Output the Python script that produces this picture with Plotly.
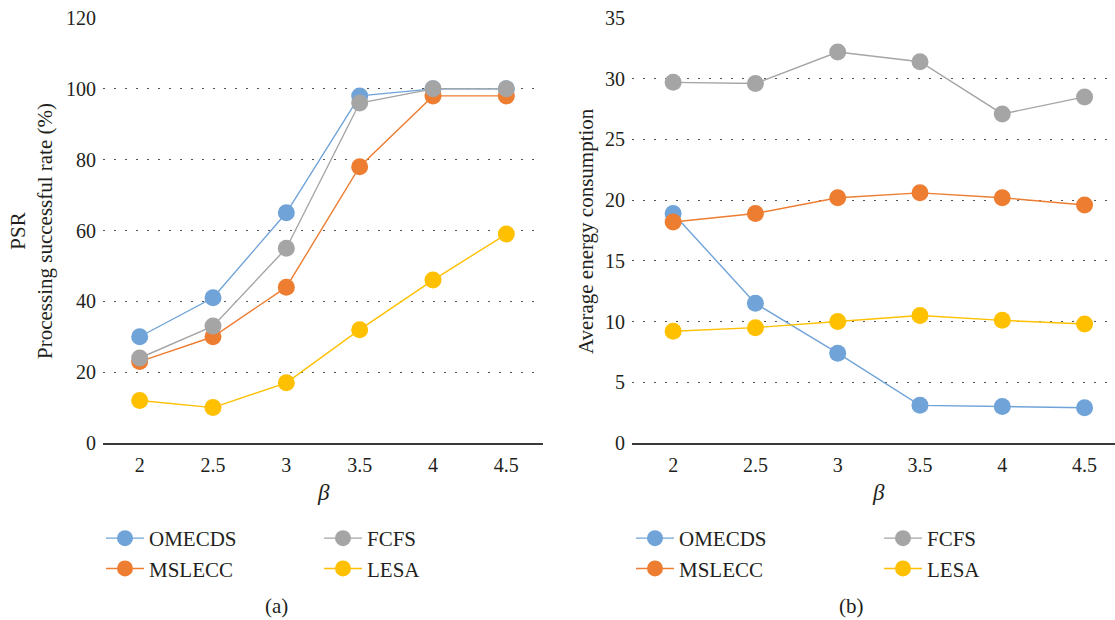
import plotly.graph_objects as go

# beta values (x categories)
beta = ["2", "2.5", "3", "3.5", "4", "4.5"]

# (a) processing successful rate, %
psr_omecds = [30, 41, 65, 98, 100, 100]
psr_mslecc = [23, 30, 44, 78, 98, 98]
psr_fcfs = [24, 33, 55, 96, 100, 100]
psr_lesa = [12, 10, 17, 32, 46, 59]

# (b) average energy consumption
eng_omecds = [18.9, 11.5, 7.4, 3.1, 3.0, 2.9]
eng_mslecc = [18.2, 18.9, 20.2, 20.6, 20.2, 19.6]
eng_fcfs = [29.7, 29.6, 32.2, 31.4, 27.1, 28.5]
eng_lesa = [9.2, 9.5, 10.0, 10.5, 10.1, 9.8]

names = ["OMECDS", "MSLECC", "FCFS", "LESA"]
colors = ["#70A3D8", "#ED7D31", "#A5A5A5", "#FFC000"]

W, H = 1115, 620
FONT = "Liberation Serif, Times New Roman, serif"
TXT = "#231f20"


def px_x(p):
    return p / W


def px_y(p):
    return 1 - p / H


fig = go.Figure()

left_series = [psr_omecds, psr_mslecc, psr_fcfs, psr_lesa]
right_series = [eng_omecds, eng_mslecc, eng_fcfs, eng_lesa]
# legend columns: first two series in one column, last two in the next
left_legends = ["legend", "legend", "legend2", "legend2"]
right_legends = ["legend3", "legend3", "legend4", "legend4"]

for name, col, ys, lg in zip(names, colors, left_series, left_legends):
    fig.add_trace(go.Scatter(
        x=beta, y=ys, name=name, mode="lines+markers",
        line=dict(color=col, width=1.4),
        marker=dict(color=col, size=17),
        xaxis="x", yaxis="y", legend=lg, cliponaxis=False,
    ))

for name, col, ys, lg in zip(names, colors, right_series, right_legends):
    fig.add_trace(go.Scatter(
        x=beta, y=ys, name=name, mode="lines+markers",
        line=dict(color=col, width=1.4),
        marker=dict(color=col, size=17),
        xaxis="x2", yaxis="y2", legend=lg, cliponaxis=False,
    ))

y_dom = [px_y(443), px_y(18)]
axis_font = dict(family=FONT, size=20, color=TXT)

common_x = dict(
    type="category", showgrid=False, zeroline=False, showline=True,
    linecolor="#3a3a3a", linewidth=1.6, ticks="", tickfont=axis_font,
    ticklabelstandoff=3, fixedrange=True, automargin=False,
)
common_y = dict(
    showgrid=True, gridcolor="#555555", gridwidth=1.3, griddash="2px,9px",
    zeroline=False, showline=False, ticks="", tickfont=axis_font,
    ticklabelstandoff=6, fixedrange=True, automargin=False,
)

legend_common = dict(
    orientation="v", bgcolor="rgba(0,0,0,0)", borderwidth=0,
    font=dict(family=FONT, size=21, color=TXT),
    xanchor="left", yanchor="top", itemclick=False, itemdoubleclick=False,
    tracegroupgap=0, itemwidth=38,
)

legend_top = px_y(518)

fig.update_layout(
    width=W, height=H,
    margin=dict(l=0, r=0, t=0, b=0, autoexpand=False),
    paper_bgcolor="white", plot_bgcolor="white",
    font=dict(family=FONT, color=TXT),
    xaxis=dict(common_x, domain=[px_x(103), px_x(543)], range=[-0.5, 5.5],
               anchor="y"),
    yaxis=dict(common_y, domain=y_dom, range=[0, 120], dtick=20,
               anchor="x"),
    xaxis2=dict(common_x, domain=[px_x(632), 1.0], range=[-0.5, 5.37],
                anchor="y2"),
    yaxis2=dict(common_y, domain=y_dom, range=[0, 35], dtick=5,
                anchor="x2"),
    legend=dict(legend_common, x=px_x(101), y=legend_top),
    legend2=dict(legend_common, x=px_x(319), y=legend_top),
    legend3=dict(legend_common, x=px_x(631), y=legend_top),
    legend4=dict(legend_common, x=px_x(879), y=legend_top),
    showlegend=True,
)

annots = [
    dict(text="PSR<br>Processing successful rate (%)", x=px_x(31), y=px_y(231),
         textangle=-90, font=dict(family=FONT, size=21, color=TXT)),
    dict(text="Average energy consumption", x=px_x(586), y=px_y(231),
         textangle=-90, font=dict(family=FONT, size=21, color=TXT)),
    dict(text="<i>β</i>", x=px_x(323), y=px_y(492),
         font=dict(family=FONT, size=23, color=TXT)),
    dict(text="<i>β</i>", x=px_x(878), y=px_y(492),
         font=dict(family=FONT, size=23, color=TXT)),
    dict(text="(a)", x=px_x(276), y=px_y(606),
         font=dict(family=FONT, size=21, color=TXT)),
    dict(text="(b)", x=px_x(851), y=px_y(606),
         font=dict(family=FONT, size=21, color=TXT)),
]
for a in annots:
    fig.add_annotation(xref="paper", yref="paper", showarrow=False,
                       xanchor="center", yanchor="middle", **a)

fig.write_html("out.html")
